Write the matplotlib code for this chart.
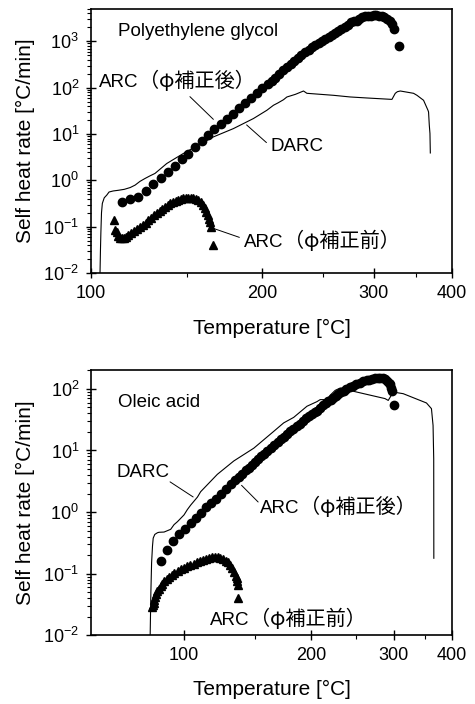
import numpy as np
import matplotlib
matplotlib.use('Agg')
import matplotlib.pyplot as plt
from matplotlib.ticker import LogLocator, FixedLocator, NullFormatter, FixedFormatter

plt.rcParams['font.family'] = ['Liberation Sans', 'Noto Sans CJK JP', 'DejaVu Sans']
plt.rcParams['mathtext.fontset'] = 'custom'
plt.rcParams['mathtext.rm'] = 'Liberation Sans'
plt.rcParams['mathtext.it'] = 'Liberation Sans:italic'
plt.rcParams['mathtext.bf'] = 'Liberation Sans:bold'

# ---------------- Polyethylene glycol ----------------
peg_arc_after_T = [114.7, 118.9, 122.8, 127.0, 131.1, 135.3, 139.4, 143.2, 147.1, 151.0,
                   155.0, 159.1, 163.3, 167.1, 171.2, 175.6, 179.6, 183.7, 187.7, 191.7,
                   196.0, 200.2, 204.2, 207, 210, 213, 216, 219, 222, 225, 228, 231, 234,
                   237, 240, 243, 246, 249, 252, 255, 258, 261, 264, 267, 270, 273, 276,
                   279, 282, 285, 288, 291, 294, 297, 300, 303, 306, 309, 312, 315, 318,
                   320.6, 323.3, 328.5]
peg_arc_after_v = [0.344, 0.387, 0.44, 0.585, 0.815, 1.10, 1.48, 2.06, 2.82, 3.79,
                   5.28, 7.0, 9.42, 13.1, 16.8, 21.5, 27.6, 37.2, 47.6, 60.1,
                   76.9, 98.6, 122, 140, 165, 200, 240, 280, 320, 370, 440, 520, 580,
                   650, 740, 830, 930, 1040, 1150, 1270, 1400, 1500, 1650, 1850, 2050, 2300, 2600,
                   2700, 2800, 3000, 3300, 3450, 3550, 3600, 3650, 3650, 3600, 3500, 3350, 3100, 2800,
                   2400, 1814, 780]

peg_arc_before_T = [111.1, 111.4, 112.2, 113.0, 114.0, 115.0, 116.0, 117.0, 118.0, 119.5,
                    121.0, 122.5, 124.0, 125.5, 127.0, 128.5, 130.0, 131.5, 133.0, 134.5,
                    136.0, 137.5, 139.0, 140.5, 142.0, 143.5, 145.0, 146.5, 148.0, 149.5,
                    151.0, 152.5, 154.0, 155.5, 157.0, 158.5, 160.0, 161.0, 162.0, 163.0,
                    163.7, 164.3, 164.8, 166.0]
peg_arc_before_v = [0.139, 0.085, 0.075, 0.062, 0.058, 0.057, 0.058, 0.061, 0.066, 0.072,
                    0.079, 0.087, 0.097, 0.108, 0.122, 0.139, 0.157, 0.177, 0.198, 0.22,
                    0.245, 0.27, 0.295, 0.32, 0.345, 0.365, 0.385, 0.40, 0.41, 0.42,
                    0.425, 0.42, 0.41, 0.395, 0.37, 0.335, 0.29, 0.25, 0.21, 0.175,
                    0.15, 0.125, 0.10, 0.040]

peg_darc_T = [104.2, 104.4, 104.6, 104.9, 105.3, 106.2, 107.4, 108.5, 110.5, 113, 116, 119,
              121.5, 124, 126.7, 129.3, 132.0, 138.5, 148.0, 166.4, 179.6, 193.6, 203.5,
              208.5, 212, 216.3, 219.0, 226, 232.7, 235.6, 259.5, 275.6, 292.8, 318.6,
              320.6, 324.5, 327, 330.5, 346.9, 351.3, 359.9, 365.8, 366.6, 367.6, 368.5, 369.0]
peg_darc_v = [0.01, 0.03, 0.0728, 0.2, 0.318, 0.42, 0.48, 0.56, 0.59, 0.61, 0.64, 0.70,
              0.79, 0.95, 1.10, 1.25, 1.41, 2.31, 3.80, 8.66, 13.1, 21.6, 32.6,
              41.8, 47, 55, 63, 72, 84.9, 75.7, 68.5, 63.1, 60, 56.2,
              56, 75.7, 82, 84.9, 75.7, 68.5, 53.5, 32.6, 29.9, 15.5, 10.3, 3.9]

# ---------------- Oleic acid ----------------
ole_arc_after_T = [86.1, 90.0, 93.5, 96.9, 100.6, 104.2, 107.4, 110.6, 113.9, 117.3,
                   120.7, 124.1, 127.7, 131.3, 134.9, 137.5, 140, 142.5, 145, 147.5,
                   150, 152.5, 155, 157.5, 160, 163, 166, 169, 172, 174.1, 177, 180,
                   183, 186, 189.4, 192, 195, 198, 201, 204, 206, 209, 212, 215, 218,
                   221, 223.4, 226, 229, 232, 235, 238, 242.4, 246, 250, 254, 258,
                   262.8, 266, 270, 274, 278, 281, 284, 287, 290, 292.5, 294.3, 296,
                   298, 300.1]
ole_arc_after_v = [0.159, 0.241, 0.338, 0.434, 0.538, 0.675, 0.815, 0.982, 1.19, 1.39,
                   1.62, 1.95, 2.36, 2.85, 3.31, 3.75, 4.2, 4.75, 5.25, 5.9,
                   6.6, 7.3, 8.0, 8.8, 9.66, 11.0, 12.3, 13.8, 15.3, 16.4, 18.5, 20.5,
                   22.5, 24.8, 27.2, 30, 33.5, 36.5, 39, 42, 44.3, 49, 54, 58, 63,
                   67, 70.8, 76, 82, 88, 94, 100, 107, 113, 120, 126, 132,
                   137, 141, 145, 149, 151, 151, 148, 144, 136, 125, 118, 105,
                   92, 55.5]

ole_arc_before_T = [81.2, 81.5, 82.0, 82.5, 83.0, 83.5, 84.2, 85, 86, 87, 88, 89.5, 91,
                    92.5, 94, 96, 98, 100, 102, 104, 106, 108, 110, 112, 114, 116, 118,
                    120, 122, 124, 126, 128, 129.5, 131, 132.5, 134, 135, 135.7, 136.3,
                    136.7, 137]
ole_arc_before_v = [0.029, 0.031, 0.034, 0.038, 0.042, 0.046, 0.052, 0.056, 0.062, 0.068,
                    0.075, 0.082, 0.089, 0.096, 0.103, 0.110, 0.118, 0.125, 0.132, 0.139,
                    0.146, 0.152, 0.159, 0.166, 0.173, 0.179, 0.185, 0.188, 0.188, 0.182,
                    0.172, 0.16, 0.152, 0.138, 0.122, 0.105, 0.093, 0.085, 0.075, 0.066,
                    0.0402]

ole_darc_T = [80.1, 80.5, 80.9, 81.4, 81.8, 82.7, 84.2, 85.1, 88.0, 91.9, 93.9, 96.0,
              100.0, 102.1, 104.2, 108.5, 110.6, 121.9, 133.7, 149.0, 165.4, 174.1,
              183.2, 195.9, 205.9, 209.2, 216.3, 219.8, 225.3, 230.8, 250.4, 287.3,
              291.9, 299.1, 314.0, 352.1, 360.9, 363.8, 365.0, 365.2]
ole_darc_v = [0.01, 0.05, 0.15, 0.28, 0.378, 0.434, 0.462, 0.47, 0.474, 0.525, 0.625, 0.70,
              0.90, 1.10, 1.30, 1.75, 2.14, 4.10, 6.76, 10.9, 20.4, 28,
              34.4, 52.2, 62, 66.8, 66.8, 78.7, 94.5, 103, 88.7, 69.5,
              64.9, 88.7, 83.5, 59.0, 47.7, 25.5, 7.3, 0.178]

xticks_major = [100, 200, 300, 400]
xticks_minor = [150, 250, 350]


def fwd(T):
    return -1.0 / (np.asarray(T, dtype=float) + 273.15)


def inv(u):
    return -1.0 / np.asarray(u, dtype=float) - 273.15


fig = plt.figure(figsize=(4.75, 7.04), dpi=100)
ax1 = fig.add_axes([91 / 475, 1 - 273 / 704, 361 / 475, 264 / 704])
ax2 = fig.add_axes([91 / 475, 1 - 635.3 / 704, 361 / 475, 265 / 704])

cjk = ['Noto Sans CJK JP', 'DejaVu Sans']


def style(ax, xlim, ylim):
    ax.set_xscale('function', functions=(fwd, inv))
    ax.set_yscale('log')
    ax.set_xlim(*xlim)
    ax.set_ylim(*ylim)
    ax.xaxis.set_major_locator(FixedLocator(xticks_major))
    ax.xaxis.set_major_formatter(FixedFormatter([str(t) for t in xticks_major]))
    ax.xaxis.set_minor_locator(FixedLocator(xticks_minor))
    ax.xaxis.set_minor_formatter(NullFormatter())
    ax.yaxis.set_major_locator(LogLocator(base=10, numticks=20))
    ax.yaxis.set_minor_locator(LogLocator(base=10, subs=np.arange(2, 10), numticks=20))
    ax.yaxis.set_minor_formatter(NullFormatter())
    ax.tick_params(which='major', direction='inout', length=7, width=1.0,
                   labelsize=13, pad=5)
    ax.tick_params(which='minor', direction='out', length=3, width=0.8)
    for s in ax.spines.values():
        s.set_linewidth(1.2)
    ax.set_xlabel('Temperature [°C]', fontsize=15)
    ax.set_ylabel('Self heat rate [°C/min]', fontsize=15)
    ax.yaxis.set_label_coords(-0.155, 0.5)


def leader(ax, p0, p1):
    ax.annotate('', xy=p1, xytext=p0, xycoords='axes fraction', textcoords='axes fraction',
                arrowprops=dict(arrowstyle='-', lw=0.7, color='black', shrinkA=0, shrinkB=0))


jlabels = []


def jlabel(ax, x, y, suffix):
    t = ax.text(x, y, 'ARC', transform=ax.transAxes, fontsize=13.5,
                ha='left', va='baseline')
    jlabels.append((ax, x, y, suffix, t))


# top panel
ax = ax1
ax.plot(peg_darc_T, peg_darc_v, color='black', lw=0.8)
ax.plot(peg_arc_after_T, peg_arc_after_v, 'o', color='black', ms=6, mec='black')
ax.plot(peg_arc_before_T, peg_arc_before_v, '^', color='black', ms=6, mec='black')
style(ax, (100, 400), (0.01, 5000))
ax.xaxis.set_label_coords(0.5, -0.175)
ax.text(0.075, 0.913, 'Polyethylene glycol', transform=ax.transAxes, fontsize=13.5,
        ha='left', va='center')
jlabel(ax, 0.022, 0.703, '（φ補正後）')
ax.text(0.496, 0.481, 'DARC', transform=ax.transAxes, fontsize=13.5, ha='left', va='center')
jlabel(ax, 0.424, 0.097, '（φ補正前）')
leader(ax, (0.274, 0.668), (0.339, 0.582))
leader(ax, (0.431, 0.561), (0.486, 0.494))
leader(ax, (0.339, 0.169), (0.411, 0.135))

# bottom panel
ax = ax2
ax.plot(ole_darc_T, ole_darc_v, color='black', lw=0.8)
ax.plot(ole_arc_after_T, ole_arc_after_v, 'o', color='black', ms=6, mec='black')
ax.plot(ole_arc_before_T, ole_arc_before_v, '^', color='black', ms=6, mec='black')
style(ax, (50, 400), (0.01, 200))
ax.xaxis.set_label_coords(0.5, -0.17)
ax.text(0.075, 0.878, 'Oleic acid', transform=ax.transAxes, fontsize=13.5,
        ha='left', va='center')
ax.text(0.072, 0.614, 'DARC', transform=ax.transAxes, fontsize=13.5, ha='left', va='center')
jlabel(ax, 0.468, 0.460, '（φ補正後）')
jlabel(ax, 0.330, 0.039, '（φ補正前）')
leader(ax, (0.219, 0.579), (0.283, 0.522))
leader(ax, (0.417, 0.566), (0.463, 0.503))

# place the Japanese suffixes on the same baseline right after "ARC"
fig.canvas.draw()
r = fig.canvas.get_renderer()
for ax, x, y, suffix, t in jlabels:
    w_pt = t.get_window_extent(renderer=r).width * 72.0 / fig.dpi
    ax.annotate(suffix, xy=(x, y), xycoords='axes fraction',
                xytext=(w_pt + 0.5, 0), textcoords='offset points',
                fontsize=14.5, family=cjk, ha='left', va='baseline')

fig.savefig('out.png', dpi=100)
